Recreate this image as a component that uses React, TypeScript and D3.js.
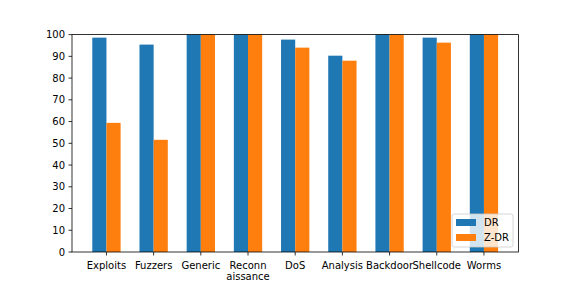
import { useEffect, useRef } from 'react'
import * as d3 from 'd3'

const categories = ['Exploits', 'Fuzzers', 'Generic', 'Reconn\naissance', 'DoS', 'Analysis', 'Backdoor', 'Shellcode', 'Worms']
const drValues = [98.6, 95.4, 100, 100, 97.7, 90.3, 100, 98.6, 100]
const zdrValues = [59.4, 51.6, 100, 100, 94.0, 88.0, 100, 96.3, 100]
const seriesNames = ['DR', 'Z-DR']
const seriesColors = ['#1f77b4', '#ff7f0e']
const yTicks = [0, 10, 20, 30, 40, 50, 60, 70, 80, 90, 100]

export default function App() {
  const ref = useRef<SVGSVGElement>(null)

  useEffect(() => {
    if (!ref.current) return
    const svg = d3.select(ref.current)
    svg.selectAll('*').remove()

    const width = 576
    const height = 288
    const left = 72, right = 518.4, top = 34.6, bottom = 252
    const font = 'DejaVu Sans, sans-serif'

    svg.attr('width', width).attr('height', height)
    svg.append('rect').attr('width', width).attr('height', height).attr('fill', 'white')

    const barW = 0.3
    const n = categories.length
    const lo = -barW, hi = n - 1 + barW
    const pad = (hi - lo) * 0.05
    const x = d3.scaleLinear().domain([lo - pad, hi + pad]).range([left, right])
    const y = d3.scaleLinear().domain([0, 100]).range([bottom, top])

    const series = [drValues, zdrValues]
    series.forEach((vals, s) => {
      svg.append('g')
        .selectAll('rect')
        .data(vals)
        .join('rect')
        .attr('x', (_, i) => x(i - barW + s * barW))
        .attr('width', x(barW) - x(0))
        .attr('y', d => y(d))
        .attr('height', d => y(0) - y(d))
        .attr('fill', seriesColors[s])
    })

    // y axis ticks
    const yg = svg.append('g')
    yTicks.forEach(t => {
      yg.append('line')
        .attr('x1', left - 3.5).attr('x2', left)
        .attr('y1', y(t)).attr('y2', y(t))
        .attr('stroke', '#000').attr('stroke-width', 0.8)
      yg.append('text')
        .attr('x', left - 7).attr('y', y(t))
        .attr('text-anchor', 'end').attr('dominant-baseline', 'central')
        .style('font-family', font).style('font-size', '10px')
        .text(t)
    })

    // x axis ticks
    const xg = svg.append('g')
    categories.forEach((c, i) => {
      xg.append('line')
        .attr('x1', x(i)).attr('x2', x(i))
        .attr('y1', bottom).attr('y2', bottom + 3.5)
        .attr('stroke', '#000').attr('stroke-width', 0.8)
      const txt = xg.append('text')
        .attr('x', x(i)).attr('y', bottom + 7)
        .attr('text-anchor', 'middle')
        .style('font-family', font).style('font-size', '10px')
      c.split('\n').forEach((line, k) => {
        txt.append('tspan')
          .attr('x', x(i)).attr('dy', k === 0 ? '0.95em' : '1.17em')
          .text(line)
      })
    })

    // frame
    svg.append('rect')
      .attr('x', left).attr('y', top)
      .attr('width', right - left).attr('height', bottom - top)
      .attr('fill', 'none').attr('stroke', '#000').attr('stroke-width', 0.8)

    // legend
    const lx = 452, ly = 214, lw = 61, lh = 33
    const lg = svg.append('g')
    lg.append('rect')
      .attr('x', lx).attr('y', ly).attr('width', lw).attr('height', lh)
      .attr('rx', 2)
      .attr('fill', 'white').attr('fill-opacity', 0.8)
      .attr('stroke', '#cccccc').attr('stroke-width', 0.8)
    seriesNames.forEach((name, s) => {
      const cy = ly + 8.5 + s * 15
      lg.append('rect')
        .attr('x', lx + 4).attr('y', cy - 3.5)
        .attr('width', 20).attr('height', 7)
        .attr('fill', seriesColors[s])
      lg.append('text')
        .attr('x', lx + 32).attr('y', cy)
        .attr('dominant-baseline', 'central')
        .style('font-family', font).style('font-size', '10px')
        .text(name)
    })
  }, [])

  return <svg ref={ref} style={{ position: 'absolute', left: 0, top: 0 }}></svg>
}
